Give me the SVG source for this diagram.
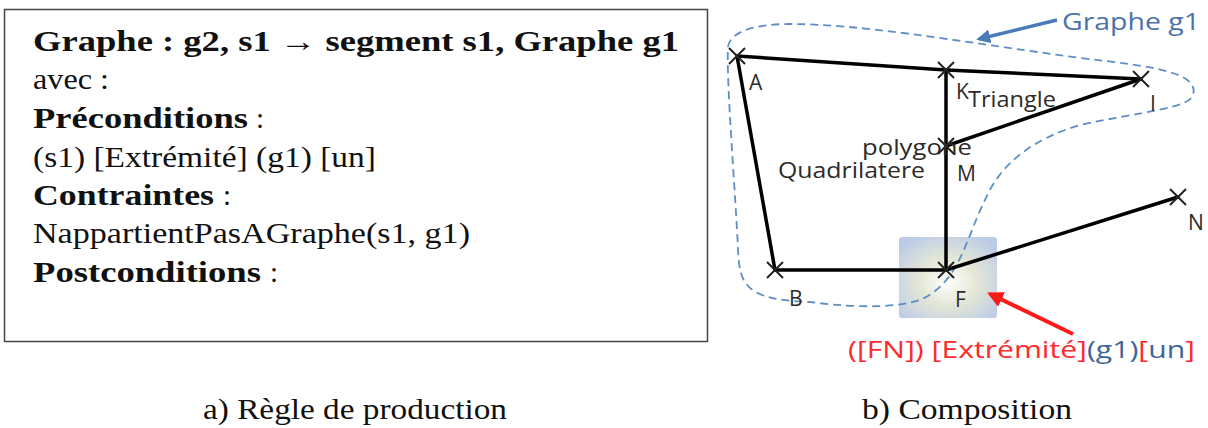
<svg xmlns="http://www.w3.org/2000/svg" width="1208" height="428" viewBox="0 0 1208 428">
<style>
.tx{font-family:"Liberation Serif","DejaVu Serif",serif;font-size:29px;fill:#111}
.b{font-weight:bold}
.lbl{font-family:"Open Sans","Liberation Sans",sans-serif;font-size:21px;fill:#2e2a28}
.edge{stroke:#000;stroke-width:3.5;fill:none;stroke-linecap:round}
.x{stroke:#222;stroke-width:2;fill:none}
</style>
<defs>
<radialGradient id="glow" cx="0.5" cy="0.55" r="0.65">
<stop offset="0" stop-color="#ffffff"/>
<stop offset="0.45" stop-color="#dfe3cf"/>
<stop offset="1" stop-color="#afc2e3"/>
</radialGradient>
<marker id="ab" viewBox="0 0 10 10" refX="8" refY="5" markerWidth="4" markerHeight="4" orient="auto"><path d="M0,0 L10,5 L0,10 z" fill="#4a7ab8"/></marker>
<marker id="ar" viewBox="0 0 10 10" refX="8" refY="5" markerWidth="4" markerHeight="4" orient="auto"><path d="M0,0 L10,5 L0,10 z" fill="#ff1a1a"/></marker>
</defs>
<rect width="1208" height="428" fill="#fff"/>

<g id="rule">
<rect x="4.5" y="9.5" width="703" height="332" fill="#fff" stroke="#444" stroke-width="1.5"/>
<text class="tx b" x="33" y="51" textLength="646" lengthAdjust="spacingAndGlyphs">Graphe : g2, s1 → segment s1, Graphe g1</text>
<text class="tx" x="33" y="89" textLength="76" lengthAdjust="spacingAndGlyphs">avec :</text>
<text class="tx b" x="33" y="128" textLength="215" lengthAdjust="spacingAndGlyphs">Préconditions</text>
<text class="tx" x="256" y="128">:</text>
<text class="tx" x="33" y="167" textLength="343" lengthAdjust="spacingAndGlyphs">(s1) [Extrémité] (g1) [un]</text>
<text class="tx b" x="33" y="205" textLength="181" lengthAdjust="spacingAndGlyphs">Contraintes</text>
<text class="tx" x="223" y="205">:</text>
<text class="tx" x="33" y="243" textLength="437" lengthAdjust="spacingAndGlyphs">NappartientPasAGraphe(s1, g1)</text>
<text class="tx b" x="33" y="282" textLength="228" lengthAdjust="spacingAndGlyphs">Postconditions</text>
<text class="tx" x="270" y="282">:</text>
</g>

<text class="tx" x="203" y="419" textLength="304" lengthAdjust="spacingAndGlyphs">a) Règle de production</text>
<text class="tx" x="862" y="419" textLength="210" lengthAdjust="spacingAndGlyphs">b) Composition</text>

<g id="composition">
<rect id="highlight" x="899" y="237" width="98" height="81" rx="3" fill="url(#glow)" opacity="0.85"/>
<path id="g1-outline" d="M728 47 C730 30,760 24,790 24 C860 24,950 40,1080 58 C1150 66,1200 72,1193 95 C1190 108,1140 112,1080 125 C1030 140,1000 165,985 200 C965 240,960 282,920 300 C890 310,840 306,810 302 C742 300,740 282,738 250 C736 200,726 80,728 47 Z" fill="none" stroke="#5f8ec6" stroke-width="1.8" stroke-dasharray="8,5"/>

<g id="connectors">
<path class="edge" d="M737 56 L946 70 L1141 79"/>
<path class="edge" d="M737 56 L775 270"/>
<path class="edge" d="M775 270 L946 270"/>
<path class="edge" d="M946 70 L946 146 L946 270"/>
<path class="edge" d="M1141 79 L946 146"/>
<path class="edge" d="M946 270 L1178 197"/>
</g>

<g id="node-A"><path class="x" d="M729 48 L745 64 M745 48 L729 64"/><text class="lbl" x="749" y="90">A</text></g>
<g id="node-K"><path class="x" d="M938 62 L954 78 M954 62 L938 78"/><text class="lbl" x="956" y="99">K</text></g>
<g id="node-I"><path class="x" d="M1133 71 L1149 87 M1149 71 L1133 87"/><text class="lbl" x="1150" y="111">I</text></g>
<g id="node-M"><path class="x" d="M938 138 L954 154 M954 138 L938 154"/><text class="lbl" x="957" y="181">M</text></g>
<g id="node-B"><path class="x" d="M767 262 L783 278 M783 262 L767 278"/><text class="lbl" x="789" y="306">B</text></g>
<g id="node-F"><path class="x" d="M938 262 L954 278 M954 262 L938 278"/><text class="lbl" x="955" y="307">F</text></g>
<g id="node-N"><path class="x" d="M1170 189 L1186 205 M1186 189 L1170 205"/><text class="lbl" x="1188" y="230">N</text></g>

<text class="lbl" x="968" y="107" textLength="88" lengthAdjust="spacingAndGlyphs">Triangle</text>
<text class="lbl" x="862" y="155" textLength="110" lengthAdjust="spacingAndGlyphs">polygone</text>
<text class="lbl" x="778" y="178" textLength="147" lengthAdjust="spacingAndGlyphs">Quadrilatere</text>

<g id="label-g1">
<line x1="1057" y1="20" x2="979" y2="39" stroke="#4a7ab8" stroke-width="3.5" marker-end="url(#ab)"/>
<text x="1062" y="30" font-family="Open Sans, Liberation Sans, sans-serif" font-size="24" fill="#4d72a8" textLength="138" lengthAdjust="spacingAndGlyphs">Graphe g1</text>
</g>
<g id="label-red">
<line x1="1073" y1="334" x2="990" y2="294" stroke="#ff1a1a" stroke-width="4" marker-end="url(#ar)"/>
<text x="848" y="358" font-family="Open Sans, Liberation Sans, sans-serif" font-size="24" fill="#ff2a2a" textLength="347" lengthAdjust="spacingAndGlyphs">([FN]) [Extrémité]<tspan fill="#3f6596">(g1)</tspan>[<tspan fill="#3f6596">un</tspan>]</text>
</g>
</g>
</svg>
